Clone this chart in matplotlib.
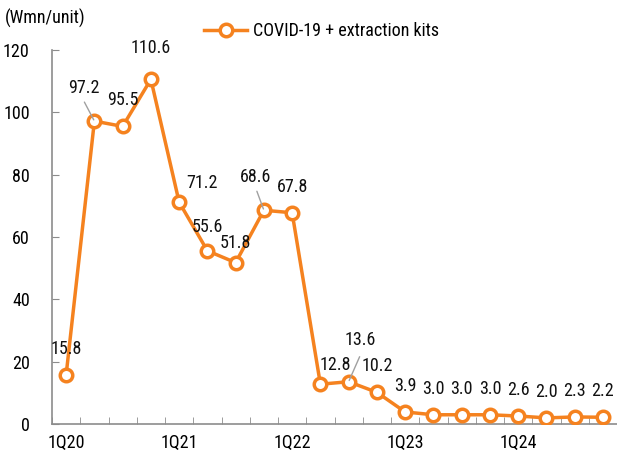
import matplotlib
matplotlib.use("Agg")
import matplotlib.pyplot as plt
from matplotlib import font_manager

names = {f.name for f in font_manager.fontManager.ttflist}
FAM = [f for f in ['Roboto Condensed', 'Archivo Narrow', 'Liberation Sans'] if f in names] + ['DejaVu Sans']
plt.rcParams['font.family'] = FAM

quarters = ['1Q20', '2Q20', '3Q20', '4Q20', '1Q21', '2Q21', '3Q21', '4Q21',
            '1Q22', '2Q22', '3Q22', '4Q22', '1Q23', '2Q23', '3Q23', '4Q23',
            '1Q24', '2Q24', '3Q24', '4Q24']
values = [15.8, 97.2, 95.5, 110.6, 71.2, 55.6, 51.8, 68.6, 67.8, 12.8,
          13.6, 10.2, 3.9, 3.0, 3.0, 3.0, 2.6, 2.0, 2.3, 2.2]
labels = ['15.8', '97.2', '95.5', '110.6', '71.2', '55.6', '51.8', '68.6', '67.8', '12.8',
          '13.6', '10.2', '3.9', '3.0', '3.0', '3.0', '2.6', '2.0', '2.3', '2.2']
tick_labels = ['1Q20', '1Q21', '1Q22', '1Q23', '1Q24']
series_name = 'COVID-19 + extraction kits'
unit = '(Wmn/unit)'

ORANGE = '#F5821F'
GRAY = '#8C8C8C'
FS = 13

fig = plt.figure(figsize=(6.17, 4.61), dpi=100)
ax = fig.add_axes([0.0843, 0.080, 0.9157, 0.8115])

x = list(range(len(values)))
ax.plot(x, values, color=ORANGE, lw=2.5, marker='o', ms=9, mfc='white',
        mec=ORANGE, mew=2.5, label=series_name, zorder=3)

ax.set_xlim(-0.5, len(values) - 0.5)
ax.set_ylim(0, 120)
ax.set_yticks(range(0, 121, 20))
ax.tick_params(axis='y', direction='in', length=5, color=GRAY, pad=16, labelsize=FS)
ax.set_xticks([0, 4, 8, 12, 16])
ax.set_xticklabels(tick_labels)
ax.tick_params(axis='x', which='major', length=0, pad=7, labelsize=FS)
ax.set_xticks([i - 0.5 for i in range(len(values) + 1)], minor=True)
ax.tick_params(axis='x', which='minor', direction='in', length=5, color=GRAY)

for s in ['top', 'right']:
    ax.spines[s].set_visible(False)
for s in ['left', 'bottom']:
    ax.spines[s].set_color(GRAY)
    ax.spines[s].set_linewidth(1.2)

# label offsets in pixels (dx, dy)
offsets = {1: (-11, 33), 3: (0, 31), 4: (23, 19), 5: (0, 24), 6: (0, 20),
           7: (-8, 33), 9: (15, 19), 10: (12, 42)}
for i, (v, t) in enumerate(zip(values, labels)):
    dx, dy = offsets.get(i, (0, 26))
    ax.annotate(t, (i, v), xytext=(dx, dy), textcoords='offset pixels',
                ha='center', va='center', fontsize=FS, color='#111111', zorder=5)

# leader lines
leaders = {1: (-10, 19), 7: (-7, 19), 10: (11, 25)}
for i, (dx, dy) in leaders.items():
    ax.annotate('', (i, values[i]), xytext=(dx, dy), textcoords='offset pixels',
                arrowprops=dict(arrowstyle='-', color='#A0A0A0', lw=1.0,
                                shrinkA=0, shrinkB=1), zorder=4)

fig.text(0.008, 0.96, unit, fontsize=FS, ha='left', va='center')
ax.legend(loc='center', bbox_to_anchor=(0.477, 1.051),
          frameon=False, fontsize=FS, handlelength=2.4, handletextpad=0.3,
          borderaxespad=0)

fig.savefig('out.png', dpi=100)
